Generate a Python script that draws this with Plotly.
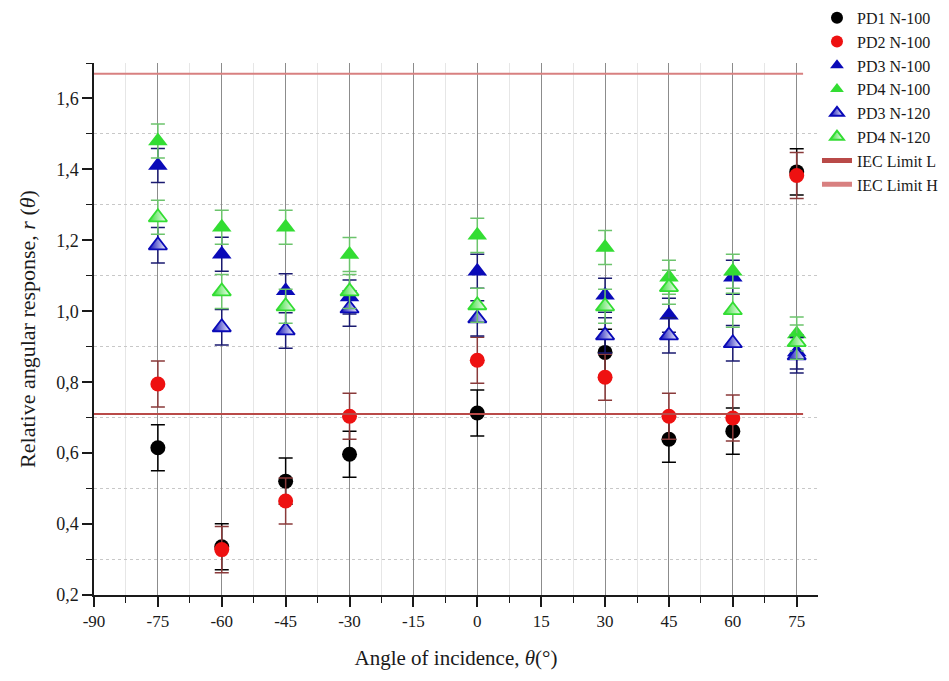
import plotly.graph_objects as go

# Incidence angles (degrees)
angles = [-75, -60, -45, -30, 0, 30, 45, 60, 75]

# Relative angular response per detector / phantom
pd1_n100 = [0.615, 0.336, 0.521, 0.597, 0.713, 0.884, 0.639, 0.662, 1.393]
pd2_n100 = [0.795, 0.328, 0.465, 0.704, 0.862, 0.814, 0.704, 0.699, 1.383]
pd3_n100 = [1.411, 1.161, 1.058, 1.040, 1.113, 1.045, 0.989, 1.096, 0.885]
pd4_n100 = [1.480, 1.237, 1.237, 1.160, 1.214, 1.180, 1.096, 1.113, 0.936]
pd3_n120 = [1.186, 0.955, 0.946, 1.008, 0.980, 0.932, 0.932, 0.910, 0.876]
pd4_n120 = [1.265, 1.056, 1.014, 1.056, 1.017, 1.014, 1.068, 1.003, 0.913]

# Uncertainties (absolute)
err_pd1 = [0.065] * 9
err_pd2 = [0.065] * 9
err_pd3_n100 = [0.048] * 9
err_pd4_n100 = [0.048] * 9
err_pd3_n120 = [0.050] * 9
err_pd4_n120 = [0.048] * 9

# IEC acceptance limits
iec_limit_low = 0.71
iec_limit_high = 1.67
limit_x = [-90, 76.5]

# Axis ticks
x_tick_vals = [-90, -75, -60, -45, -30, -15, 0, 15, 30, 45, 60, 75]
x_tick_text = ["-90", "-75", "-60", "-45", "-30", "-15", "0", "15", "30", "45", "60", "75"]

FONT = "Liberation Serif"
INK = "#1a1a1a"

fig = go.Figure()

series = [
    ("PD1 N-100", pd1_n100, err_pd1, "circle", "#000000", "#000000", 15, False),
    ("PD2 N-100", pd2_n100, err_pd2, "circle", "#ee1111", "#8a3a3a", 15, False),
    ("PD3 N-100", pd3_n100, err_pd3_n100, "triangle-up", "#0a0ab8", "#1a1a70", 17, False),
    ("PD4 N-100", pd4_n100, err_pd4_n100, "triangle-up", "#33dd33", "#6cc46c", 17, False),
    ("PD3 N-120", pd3_n120, err_pd3_n120, "triangle-up", "#0a0ab8", "#1a1a70", 16, True),
    ("PD4 N-120", pd4_n120, err_pd4_n120, "triangle-up", "#33dd33", "#6cc46c", 16, True),
]

for name, vals, errs, sym, col, ecol, size, half in series:
    marker = dict(symbol=sym, color=col, size=size)
    if half:
        # half-filled look: colour fading to white across the symbol
        marker["gradient"] = dict(type="horizontal", color="white")
        marker["line"] = dict(color=col, width=1.8)
    else:
        marker["line"] = dict(width=0)
    fig.add_trace(go.Scatter(
        x=angles, y=vals, mode="markers", name=name, marker=marker,
        error_y=dict(type="data", array=errs, visible=True,
                     color=ecol, thickness=1.5, width=7),
    ))

fig.add_trace(go.Scatter(
    x=limit_x, y=[iec_limit_low] * 2, mode="lines", name="IEC Limit L",
    line=dict(color="#b94a48", width=2),
))
fig.add_trace(go.Scatter(
    x=limit_x, y=[iec_limit_high] * 2, mode="lines", name="IEC Limit H",
    line=dict(color="#d88080", width=2),
))

fig.update_layout(
    width=949, height=681,
    margin=dict(l=94, r=131, t=63, b=86, autoexpand=False),
    paper_bgcolor="white", plot_bgcolor="white",
    separators=",.",
    font=dict(family=FONT, size=16, color=INK),
    legend=dict(
        x=0.9986, y=1.117, xanchor="left", yanchor="top",
        font=dict(family=FONT, size=16, color=INK),
        bgcolor="rgba(255,255,255,0)", itemwidth=30, tracegroupgap=0,
        itemsizing="constant",
    ),
    showlegend=True,
)

fig.update_xaxes(
    range=[-90, 80], tickvals=x_tick_vals, ticktext=x_tick_text,
    showline=True, linecolor=INK, linewidth=1.5,
    ticks="outside", ticklen=10, tickwidth=1.5, tickcolor=INK,
    tickfont=dict(family=FONT, size=17, color=INK),
    showgrid=True, gridcolor="#8c8c8c", gridwidth=1,
    zeroline=False,
    minor=dict(tick0=-90, dtick=7.5, ticks="outside", ticklen=6,
               tickwidth=1.3, tickcolor=INK,
               showgrid=True, gridcolor="#e6e6e6", gridwidth=1),
    title=dict(text="Angle of incidence, <i>θ</i>(°)",
               font=dict(family=FONT, size=21, color=INK), standoff=20),
)

fig.update_yaxes(
    range=[0.2, 1.7], tick0=0.2, dtick=0.2, tickformat=".1f",
    showline=True, linecolor=INK, linewidth=1.5,
    ticks="outside", ticklen=10, tickwidth=1.5, tickcolor=INK,
    tickfont=dict(family=FONT, size=18, color=INK),
    showgrid=False, zeroline=False,
    minor=dict(tick0=0.2, dtick=0.1, ticks="outside", ticklen=6,
               tickwidth=1.3, tickcolor=INK,
               showgrid=True, gridcolor="#c8c8c8", gridwidth=1,
               griddash="dot"),
    title=dict(text="Relative angular response, <i>r</i> (<i>θ</i>)",
               font=dict(family=FONT, size=22, color=INK), standoff=14),
)

fig.write_html("out.html")
